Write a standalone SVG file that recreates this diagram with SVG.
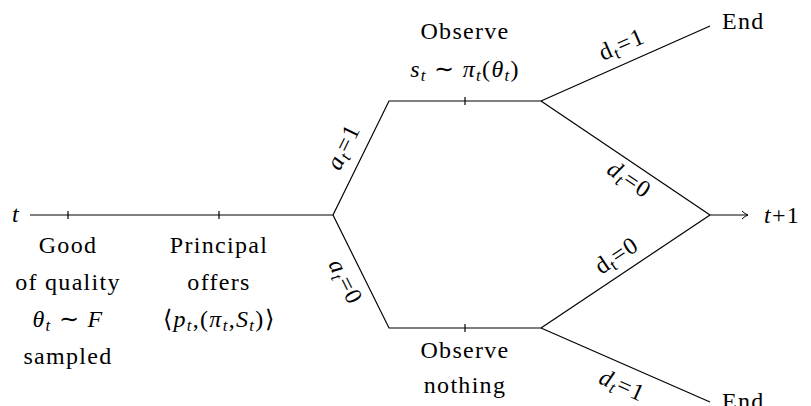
<svg xmlns="http://www.w3.org/2000/svg" width="811" height="406" viewBox="0 0 811 406">
<style>
text{font-size:24px;letter-spacing:1.3px;fill:#000}
.c{text-anchor:middle}
.i{font-style:italic}
.s{font-size:17px}
.ln{stroke:#000;stroke-width:1.2;fill:none}
</style>
<defs>
<marker id="ah" markerWidth="10" markerHeight="10" refX="8" refY="5" orient="auto" markerUnits="userSpaceOnUse">
<path d="M2,1 Q5,4 8,5 Q5,6 2,9" fill="none" stroke="#000" stroke-width="1"/>
</marker>
</defs>
<g id="connectors">
<path class="ln" d="M30,215 H333"/>
<path class="ln" d="M68,211 V219 M219,211 V219"/>
<path class="ln" d="M333,215 L389,101 H541"/>
<path class="ln" d="M465,97 V105"/>
<path class="ln" d="M333,215 L389,328 H541"/>
<path class="ln" d="M465,324 V332"/>
<path class="ln" d="M541,101 L710,26"/>
<path class="ln" d="M541,101 L710,215"/>
<path class="ln" d="M541,328 L710,215"/>
<path class="ln" d="M541,328 L710,402"/>
<path class="ln" d="M710,215 H748" marker-end="url(#ah)"/>
</g>
<g font-family="Liberation Serif, Times New Roman, serif">
<g id="start"><text x="12" y="222" class="i">t</text></g>
<g id="next"><text x="764" y="223"><tspan class="i">t</tspan>+1</text></g>
<g id="sample">
<text x="68" y="253" class="c">Good</text>
<text x="68" y="290" class="c">of quality</text>
<text x="68" y="327" class="c"><tspan class="i">θ</tspan><tspan class="i s" dy="4">t</tspan><tspan dy="-4"> ∼ </tspan><tspan class="i">F</tspan></text>
<text x="68" y="364" class="c">sampled</text>
</g>
<g id="offer">
<text x="219" y="253" class="c">Principal</text>
<text x="219" y="290" class="c">offers</text>
<text x="219" y="327" class="c">⟨<tspan class="i">p</tspan><tspan class="i s" dy="4">t</tspan><tspan dy="-4">,(</tspan><tspan class="i">π</tspan><tspan class="i s" dy="4">t</tspan><tspan dy="-4">,</tspan><tspan class="i">S</tspan><tspan class="i s" dy="4">t</tspan><tspan dy="-4">)⟩</tspan></text>
</g>
<g id="observe-signal">
<text x="465" y="39" class="c">Observe</text>
<text x="465" y="77" class="c"><tspan class="i">s</tspan><tspan class="i s" dy="4">t</tspan><tspan dy="-4"> ∼ </tspan><tspan class="i">π</tspan><tspan class="i s" dy="4">t</tspan><tspan dy="-4">(</tspan><tspan class="i">θ</tspan><tspan class="i s" dy="4">t</tspan><tspan dy="-4">)</tspan></text>
</g>
<g id="observe-nothing">
<text x="465" y="358" class="c">Observe</text>
<text x="465" y="393" class="c">nothing</text>
</g>
<g id="end-top"><text x="722" y="29">End</text></g>
<g id="end-bottom"><text x="722" y="409">End</text></g>
<g id="labels">
<text class="c" transform="translate(344,147) rotate(-63.8)" y="7"><tspan class="i">a</tspan><tspan class="i s" dy="4">t</tspan><tspan dy="-4">=1</tspan></text>
<text class="c" transform="translate(345,282) rotate(63.4)" y="7"><tspan class="i">a</tspan><tspan class="i s" dy="4">t</tspan><tspan dy="-4">=0</tspan></text>
<text class="c" transform="translate(622,45) rotate(-23.7)" y="7">d<tspan class="s" dy="4">t</tspan><tspan dy="-4">=1</tspan></text>
<text class="c" transform="translate(629,180) rotate(34)" y="7"><tspan class="i">d</tspan><tspan class="i s" dy="4">t</tspan><tspan dy="-4">=0</tspan></text>
<text class="c" transform="translate(617,256) rotate(-33.7)" y="7">d<tspan class="s" dy="4">t</tspan><tspan dy="-4">=0</tspan></text>
<text class="c" transform="translate(622,386) rotate(23.9)" y="7"><tspan class="i">d</tspan><tspan class="i s" dy="4">t</tspan><tspan dy="-4">=1</tspan></text>
</g>
</g>
</svg>
